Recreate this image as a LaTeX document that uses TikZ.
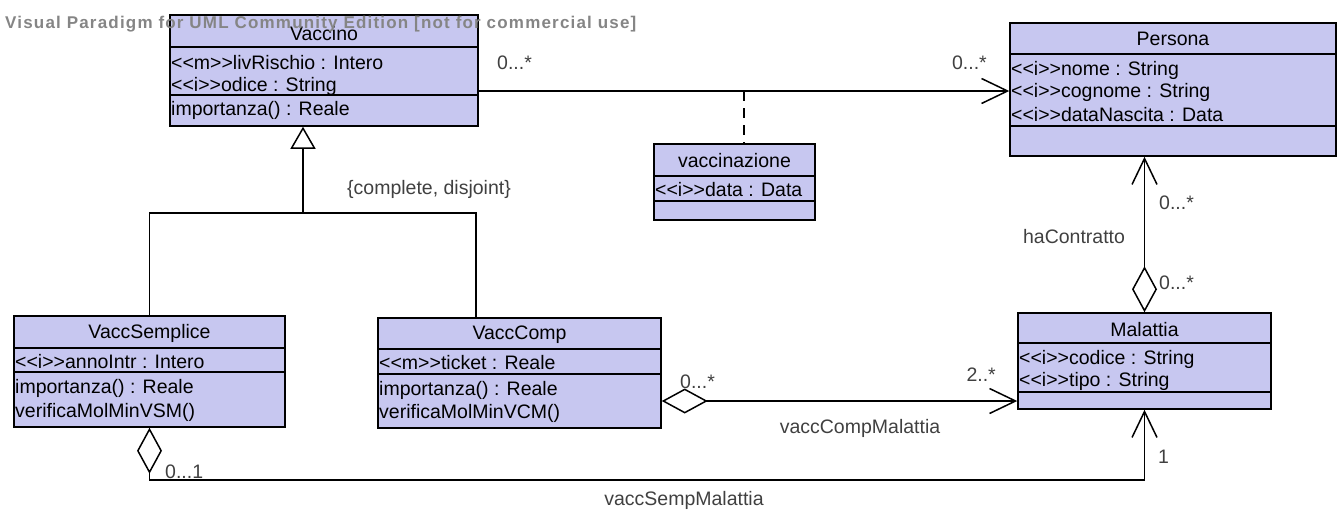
\documentclass[tikz,border=0pt]{standalone}
\usepackage{fontspec}
\setmainfont{Liberation Sans}
\newfontfamily\wmfont{Liberation Sans}[LetterSpace=7]
\usetikzlibrary{arrows.meta,fit,calc}
\definecolor{umlfill}{RGB}{199,199,240}
\newcommand\stereo[1]{<\kern0pt<#1>\kern0pt>}
\tikzset{
  cls/.style={draw,fill=umlfill,line width=1.5pt,inner sep=0pt},
  divline/.style={line width=1.5pt},
  hd/.style={font=\fontsize{19.5}{22}\selectfont,inner sep=0pt},
  attr/.style={font=\fontsize{19.5}{22}\selectfont,inner sep=0pt,anchor=west},
  lbl/.style={font=\fontsize{19.5}{22}\selectfont,inner sep=0pt,text=black!75},
  wm/.style={font=\wmfont\bfseries\fontsize{17}{20}\selectfont,inner sep=0pt,anchor=west,text=black!48},
  conn/.style={line width=1.5pt},
  nav/.style={conn,-{Straight Barb[length=26pt,width=25pt]}},
  aggnav/.style={conn,{Diamond[open,length=46pt,width=25pt]}-{Straight Barb[length=26pt,width=25pt]}},
  gen/.style={conn,-{Triangle[open,length=22pt,width=25pt]}},
}

\begin{document}
\begin{tikzpicture}[x=1pt,y=-1pt]
\useasboundingbox (0,0) rectangle (1337,509);
% classes
\node[cls,fit={(170,15)(478,126)}] (vaccino) {};
\node[cls,fit={(1010,23)(1336,156)}] (persona) {};
\node[cls,fit={(654,144)(815,220)}] (vaccinaz) {};
\node[cls,fit={(14,316)(285,427)}] (vaccsemp) {};
\node[cls,fit={(378,318)(661,428)}] (vacccomp) {};
\node[cls,fit={(1018,313)(1271,409)}] (malattia) {};
\foreach \n/\y in {vaccino/47,vaccino/95,persona/54,persona/126,vaccinaz/176,vaccinaz/201,
  vaccsemp/348,vaccsemp/372,vacccomp/349,vacccomp/374,malattia/343,malattia/392}
  \draw[divline] (\n.west |- 0,\y) -- (\n.east |- 0,\y);

% names and members
\node[hd] (vaccinoT) at (vaccino.north |- 0,34) {Vaccino};
\node[attr] (vaccinoA1) at (171,63) {\stereo{m}livRischio : Intero};
\node[attr] (vaccinoA2) at (171,86) {\stereo{i}odice : String};
\node[attr] (vaccinoM1) at (171,110) {importanza() : Reale};

\node[hd] (personaT) at (persona.north |- 0,39) {Persona};
\node[attr] (personaA1) at (1011,70) {\stereo{i}nome : String};
\node[attr] (personaA2) at (1011,92) {\stereo{i}cognome : String};
\node[attr] (personaA3) at (1011,115) {\stereo{i}dataNascita : Data};

\node[hd] (vaccinazT) at (vaccinaz.north |- 0,161) {vaccinazione};
\node[attr] (vaccinazA1) at (655,190) {\stereo{i}data : Data};

\node[hd] (vaccsempT) at (vaccsemp.north |- 0,333) {VaccSemplice};
\node[attr] (vaccsempA1) at (15,362) {\stereo{i}annoIntr : Intero};
\node[attr] (vaccsempM1) at (15,388) {importanza() : Reale};
\node[attr] (vaccsempM2) at (15,412) {verificaMolMinVSM()};

\node[hd] (vacccompT) at (vacccomp.north |- 0,335) {VaccComp};
\node[attr] (vacccompA1) at (379,363) {\stereo{m}ticket : Reale};
\node[attr] (vacccompM1) at (379,390) {importanza() : Reale};
\node[attr] (vacccompM2) at (379,413) {verificaMolMinVCM()};

\node[hd] (malattiaT) at (malattia.north |- 0,330) {Malattia};
\node[attr] (malattiaA1) at (1019,359) {\stereo{i}codice : String};
\node[attr] (malattiaA2) at (1019,381) {\stereo{i}tipo : String};

% generalization
\coordinate (genjoin) at (303,213);
\coordinate (compjoin) at (476,213);
\draw[gen] (genjoin) -- (genjoin |- vaccino.south);
\draw[conn] (vaccsemp.north) |- (compjoin) -- (compjoin |- vacccomp.north);
\node[lbl] (gset) at (429,189) {\{complete, disjoint\}};

% associations
\coordinate (vline) at (744,91);
\draw[nav] (vaccino.east |- vline) -- (persona.west |- vline);
\draw[conn,dash pattern=on 10pt off 7pt] (vline) -- (vline |- vaccinaz.north);
\node[lbl,anchor=west] (m1) at (497,63) {0...*};
\node[lbl,anchor=east] (m2) at (987,63) {0...*};

\coordinate (cline) at (700,401);
\draw[aggnav] (vacccomp.east |- cline) -- (malattia.west |- cline);
\node[lbl,anchor=west] (m3) at (680,382) {0...*};
\node[lbl,anchor=east] (m4) at (996,375) {2..*};
\node[lbl] (vcm) at (860,428) {vaccCompMalattia};

\draw[aggnav] (malattia.north) -- (malattia.north |- persona.south);
\node[lbl,anchor=west] (m5) at (1159,203) {0...*};
\node[lbl,anchor=west] (m6) at (1159,283) {0...*};
\node[lbl] (hac) at (1074,237) {haContratto};

\coordinate (sline) at (600,480);
\draw[aggnav] (vaccsemp.south) |- (sline) -| (malattia.south);
\node[lbl,anchor=west] (m7) at (165,472) {0...1};
\node[lbl,anchor=west] (m8) at (1158,457) {1};
\node[lbl] (vsm) at (684,500) {vaccSempMalattia};

\node[wm] (wmark) at (5,24) {Visual Paradigm for UML Community Edition [not for commercial use]};
\end{tikzpicture}
\end{document}
